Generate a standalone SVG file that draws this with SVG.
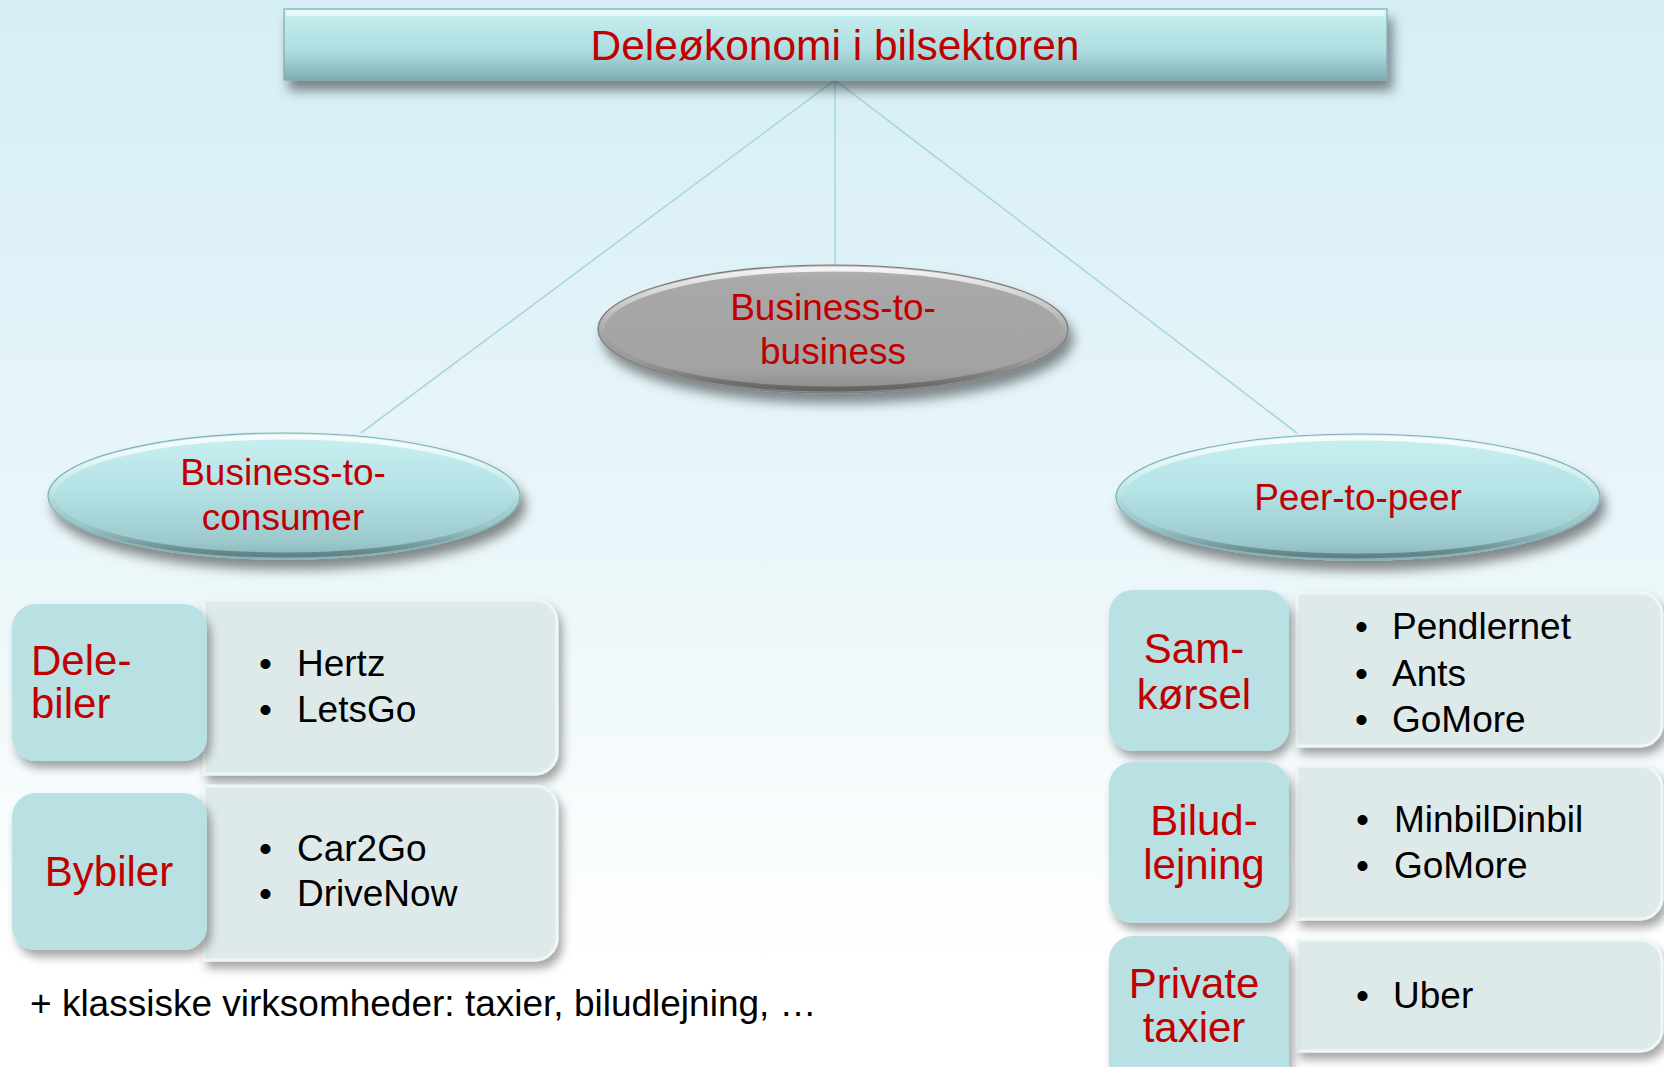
<svg xmlns="http://www.w3.org/2000/svg" width="1664" height="1067" viewBox="0 0 1664 1067">
  <defs>
    <linearGradient id="bg" x1="0" y1="0" x2="0" y2="1">
      <stop offset="0" stop-color="#d5eef6"/>
      <stop offset="0.55" stop-color="#ecf7fa"/>
      <stop offset="0.9" stop-color="#ffffff"/>
    </linearGradient>
    <linearGradient id="titleFill" x1="0" y1="0" x2="0" y2="1">
      <stop offset="0" stop-color="#e2fafb"/>
      <stop offset="0.12" stop-color="#c3eced"/>
      <stop offset="0.6" stop-color="#acdcdf"/>
      <stop offset="1" stop-color="#82aeb2"/>
    </linearGradient>
    <linearGradient id="tealOval" x1="0" y1="0" x2="0" y2="1">
      <stop offset="0" stop-color="#c9f0f2"/>
      <stop offset="0.45" stop-color="#b4e2e5"/>
      <stop offset="0.85" stop-color="#9ccacd"/>
      <stop offset="1" stop-color="#86b3b7"/>
    </linearGradient>
    <linearGradient id="greyOval" x1="0" y1="0" x2="0" y2="1">
      <stop offset="0" stop-color="#b8b8b8"/>
      <stop offset="0.12" stop-color="#a8a8a8"/>
      <stop offset="0.8" stop-color="#a3a3a3"/>
      <stop offset="1" stop-color="#8a8a8a"/>
    </linearGradient>
    <!-- bevel rim: bright along the top, darker along the bottom -->
    <linearGradient id="rim" x1="0" y1="0" x2="0" y2="1">
      <stop offset="0" stop-color="#ffffff" stop-opacity="0.85"/>
      <stop offset="0.45" stop-color="#ffffff" stop-opacity="0.15"/>
      <stop offset="0.75" stop-color="#000000" stop-opacity="0.05"/>
      <stop offset="1" stop-color="#000000" stop-opacity="0.3"/>
    </linearGradient>
    <filter id="shadow" x="-10%" y="-20%" width="125%" height="170%">
      <feGaussianBlur in="SourceAlpha" stdDeviation="6"/>
      <feOffset dx="5" dy="10" result="b"/>
      <feFlood flood-color="#000000" flood-opacity="0.45"/>
      <feComposite in2="b" operator="in"/>
      <feMerge><feMergeNode/><feMergeNode in="SourceGraphic"/></feMerge>
    </filter>
    <filter id="softShadow" x="-10%" y="-15%" width="125%" height="145%">
      <feGaussianBlur in="SourceAlpha" stdDeviation="5"/>
      <feOffset dx="4" dy="7" result="b"/>
      <feFlood flood-color="#000000" flood-opacity="0.35"/>
      <feComposite in2="b" operator="in"/>
      <feMerge><feMergeNode/><feMergeNode in="SourceGraphic"/></feMerge>
    </filter>
    <style>
      .red { font-family: "Liberation Sans", Arial, sans-serif; fill: #c00000; }
      .blk { font-family: "Liberation Sans", Arial, sans-serif; fill: #000000; font-size: 37px; }
      .oval-text { font-size: 37px; text-anchor: middle; }
      .cat-text { font-size: 42px; }
      .cat { fill: #b9e0e3; }
      .panel { fill: #deeaea; stroke: #eef6f6; stroke-width: 3; }
      .link { stroke: #a9d8dc; stroke-width: 1.6; fill: none; }
      .bevel { fill: none; stroke: url(#rim); stroke-width: 5; }
    </style>
  </defs>

  <!-- backdrop -->
  <rect x="0" y="0" width="1664" height="1067" fill="url(#bg)"/>

  <!-- connectors from the title bar to the three categories -->
  <g id="connectors">
    <line class="link" x1="835" y1="80" x2="361" y2="433"/>
    <line class="link" x1="835" y1="80" x2="835" y2="265"/>
    <line class="link" x1="835" y1="80" x2="1297" y2="433"/>
  </g>

  <!-- title bar -->
  <g id="title">
    <rect x="284" y="9" width="1103" height="71" fill="url(#titleFill)" stroke="#7fa9ad" stroke-width="1.2" filter="url(#shadow)"/>
    <rect x="287" y="11" width="1097" height="5" fill="#ffffff" opacity="0.5"/>
    <text class="red" x="835" y="60" font-size="42.5" text-anchor="middle">Deleøkonomi i bilsektoren</text>
  </g>

  <!-- business-to-business -->
  <g id="b2b">
    <ellipse cx="833" cy="329" rx="235" ry="64" fill="url(#greyOval)" stroke="#7a7a7a" stroke-width="1.2" filter="url(#shadow)"/>
    <ellipse class="bevel" cx="833" cy="329" rx="231" ry="60"/>
    <text class="red oval-text" x="833" y="320">Business-to-</text>
    <text class="red oval-text" x="833" y="364">business</text>
  </g>

  <!-- business-to-consumer -->
  <g id="b2c">
    <ellipse cx="284" cy="496" rx="236" ry="63" fill="url(#tealOval)" stroke="#82b0b4" stroke-width="1.2" filter="url(#shadow)"/>
    <ellipse class="bevel" cx="284" cy="496" rx="232" ry="59"/>
    <text class="red oval-text" x="283" y="485">Business-to-</text>
    <text class="red oval-text" x="283" y="530">consumer</text>
  </g>

  <!-- peer-to-peer -->
  <g id="p2p">
    <ellipse cx="1358" cy="497" rx="242" ry="63" fill="url(#tealOval)" stroke="#82b0b4" stroke-width="1.2" filter="url(#shadow)"/>
    <ellipse class="bevel" cx="1358" cy="497" rx="238" ry="59"/>
    <text class="red oval-text" x="1358" y="510">Peer-to-peer</text>
  </g>

  <!-- Delebiler -->
  <g id="delebiler">
    <path class="panel" d="M204,600 H535 A22,22 0 0 1 557,622 V752 A22,22 0 0 1 535,774 H204 Z" filter="url(#softShadow)"/>
    <rect class="cat" x="12" y="604" width="195" height="157" rx="24" filter="url(#softShadow)"/>
    <text class="red cat-text" x="31" y="675">Dele-</text>
    <text class="red cat-text" x="31" y="718">biler</text>
    <text class="blk" x="259" y="676">•</text>
    <text class="blk" x="297" y="676">Hertz</text>
    <text class="blk" x="259" y="722">•</text>
    <text class="blk" x="297" y="722">LetsGo</text>
  </g>

  <!-- Bybiler -->
  <g id="bybiler">
    <path class="panel" d="M204,786 H535 A22,22 0 0 1 557,808 V938 A22,22 0 0 1 535,960 H204 Z" filter="url(#softShadow)"/>
    <rect class="cat" x="12" y="793" width="195" height="157" rx="24" filter="url(#softShadow)"/>
    <text class="red cat-text" x="109" y="886" text-anchor="middle">Bybiler</text>
    <text class="blk" x="259" y="861">•</text>
    <text class="blk" x="297" y="861">Car2Go</text>
    <text class="blk" x="259" y="906">•</text>
    <text class="blk" x="297" y="906">DriveNow</text>
  </g>

  <!-- Samkørsel -->
  <g id="samkoersel">
    <path class="panel" d="M1297,593 H1640 A22,22 0 0 1 1662,615 V724 A22,22 0 0 1 1640,746 H1297 Z" filter="url(#softShadow)"/>
    <rect class="cat" x="1109" y="590" width="180" height="161" rx="24" filter="url(#softShadow)"/>
    <text class="red cat-text" x="1194" y="663" text-anchor="middle">Sam-</text>
    <text class="red cat-text" x="1194" y="709" text-anchor="middle">kørsel</text>
    <text class="blk" x="1355" y="639">•</text>
    <text class="blk" x="1392" y="639">Pendlernet</text>
    <text class="blk" x="1355" y="686">•</text>
    <text class="blk" x="1392" y="686">Ants</text>
    <text class="blk" x="1355" y="732">•</text>
    <text class="blk" x="1392" y="732">GoMore</text>
  </g>

  <!-- Biludlejning -->
  <g id="biludlejning">
    <path class="panel" d="M1297,766 H1640 A22,22 0 0 1 1662,788 V897 A22,22 0 0 1 1640,919 H1297 Z" filter="url(#softShadow)"/>
    <rect class="cat" x="1109" y="762" width="180" height="161" rx="24" filter="url(#softShadow)"/>
    <text class="red cat-text" x="1204" y="835" text-anchor="middle">Bilud-</text>
    <text class="red cat-text" x="1204" y="879" text-anchor="middle">lejning</text>
    <text class="blk" x="1356" y="832">•</text>
    <text class="blk" x="1394" y="832">MinbilDinbil</text>
    <text class="blk" x="1356" y="878">•</text>
    <text class="blk" x="1394" y="878">GoMore</text>
  </g>

  <!-- Private taxier -->
  <g id="privatetaxier">
    <path class="panel" d="M1297,940 H1640 A22,22 0 0 1 1662,962 V1029 A22,22 0 0 1 1640,1051 H1297 Z" filter="url(#softShadow)"/>
    <rect class="cat" x="1109" y="936" width="180" height="161" rx="24" filter="url(#softShadow)"/>
    <text class="red cat-text" x="1194" y="998" text-anchor="middle">Private</text>
    <text class="red cat-text" x="1194" y="1042" text-anchor="middle">taxier</text>
    <text class="blk" x="1356" y="1008">•</text>
    <text class="blk" x="1393" y="1008">Uber</text>
  </g>

  <!-- footnote -->
  <text class="blk" x="30" y="1016">+ klassiske virksomheder: taxier, biludlejning, …</text>
</svg>
